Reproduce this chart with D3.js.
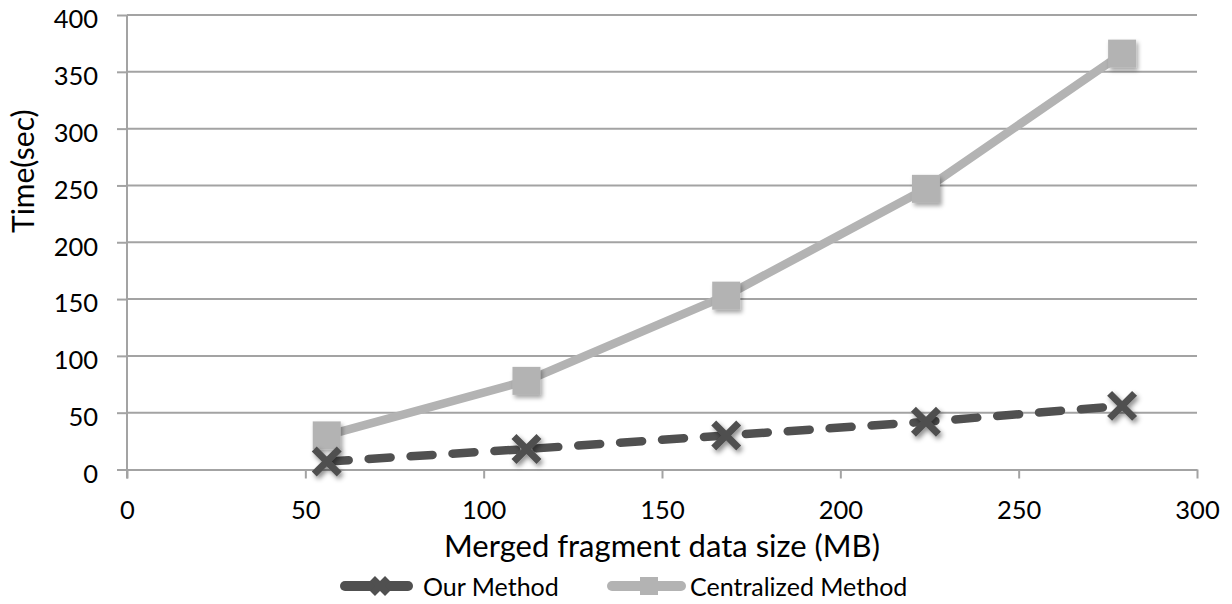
<!DOCTYPE html>
<html>
<head>
<meta charset="utf-8">
<script src="https://cdn.jsdelivr.net/npm/d3@7/dist/d3.min.js"></script>
<style>
  html, body { margin: 0; padding: 0; background: #fff; }
  svg { display: block; }
  text { font-family: Lato, "Open Sans", sans-serif; fill: #000; }
</style>
</head>
<body>
<svg id="chart" width="1232" height="604"></svg>
<script>
// Data size (MB) of the merged fragments
const sizes = [56, 112, 168, 224, 279];
// Execution time (sec) for each approach
const ourMethod = [7, 18, 30, 42, 56];
const centralized = [30, 78, 153, 247, 366];
// Axis ticks
const xTicks = [0, 50, 100, 150, 200, 250, 300];
const yTicks = [0, 50, 100, 150, 200, 250, 300, 350, 400];
const seriesNames = ["Our Method", "Centralized Method"];

const svg = d3.select("#chart");
const plotL = 127, plotR = 1197, plotT = 15, plotB = 469.5;

const x = d3.scaleLinear().domain([0, 300]).range([plotL, plotR]);
const y = d3.scaleLinear().domain([0, 400]).range([plotB, plotT]);

const gridColor = "#a3a3a3";
const darkColor = "#505050";
const lightColor = "#b3b3b3";

// Soft drop shadow used by the markers
const defs = svg.append("defs");
const f = defs.append("filter").attr("id", "shadow")
  .attr("x", "-50%").attr("y", "-50%").attr("width", "200%").attr("height", "200%");
f.append("feDropShadow").attr("dx", 2).attr("dy", 3).attr("stdDeviation", 2)
  .attr("flood-color", "#000").attr("flood-opacity", 0.35);
const fx = defs.append("filter").attr("id", "shadowX")
  .attr("x", "-50%").attr("y", "-50%").attr("width", "200%").attr("height", "200%");
fx.append("feGaussianBlur").attr("in", "SourceGraphic").attr("stdDeviation", 0.7).attr("result", "b");
fx.append("feDropShadow").attr("in", "b").attr("dx", 2).attr("dy", 3).attr("stdDeviation", 2.4)
  .attr("flood-color", "#000").attr("flood-opacity", 0.45);

// Horizontal gridlines
svg.append("g").selectAll("line")
  .data(yTicks.filter(d => d > 0))
  .join("line")
  .attr("x1", plotL).attr("x2", plotR)
  .attr("y1", d => y(d)).attr("y2", d => y(d))
  .attr("stroke", gridColor).attr("stroke-width", 2);

// Left axis: small outer ticks and labels
const yAxis = svg.append("g")
  .attr("transform", `translate(${plotL},0)`)
  .call(d3.axisLeft(y).tickValues(yTicks).tickSize(10).tickSizeOuter(0).tickPadding(19));
yAxis.select(".domain").remove();
yAxis.selectAll(".tick line").attr("x1", -10).attr("x2", 0)
  .attr("stroke", gridColor).attr("stroke-width", 2);
yAxis.selectAll(".tick text").attr("font-size", 25.5).attr("dy", "0.5em")
  .attr("font-family", "Lato, sans-serif").attr("fill", "#000");

// Bottom axis with downward ticks
const xAxis = svg.append("g")
  .attr("transform", `translate(0,${plotB})`)
  .call(d3.axisBottom(x).tickValues(xTicks).tickSize(9).tickSizeOuter(0).tickPadding(22));
xAxis.select(".domain").attr("stroke", gridColor).attr("stroke-width", 2);
xAxis.selectAll(".tick line").attr("stroke", gridColor).attr("stroke-width", 2);
xAxis.selectAll(".tick text").attr("font-size", 25.5)
  .attr("font-family", "Lato, sans-serif").attr("fill", "#000");

// Vertical axis line
svg.append("line")
  .attr("x1", plotL).attr("x2", plotL).attr("y1", plotT).attr("y2", plotB + 9)
  .attr("stroke", gridColor).attr("stroke-width", 2);

// Axis titles
svg.append("text")
  .attr("transform", `translate(34,233) rotate(-90)`)
  .attr("text-anchor", "start").attr("font-size", 30)
  .text("Time(sec)");
svg.append("text")
  .attr("x", (plotL + plotR) / 2).attr("y", 557)
  .attr("text-anchor", "middle").attr("font-size", 31)
  .text("Merged fragment data size (MB)");

const line = d3.line().x(d => x(d[0])).y(d => y(d[1]));
const cenPts = sizes.map((s, i) => [s, centralized[i]]);
const ourPts = sizes.map((s, i) => [s, ourMethod[i]]);

// Centralized series
svg.append("path").datum(cenPts)
  .attr("d", line).attr("fill", "none")
  .attr("stroke", lightColor).attr("stroke-width", 8.5).attr("stroke-linejoin", "round");

// Our Method series (dashed)
svg.append("path").datum(ourPts)
  .attr("d", line).attr("fill", "none")
  .attr("stroke", darkColor).attr("stroke-width", 8.5)
  .attr("stroke-linecap", "round").attr("stroke-dasharray", "22,20");

// Square markers
const sq = 28;
svg.append("g").attr("filter", "url(#shadow)").selectAll("rect")
  .data(cenPts).join("rect")
  .attr("x", d => x(d[0]) - sq / 2).attr("y", d => y(d[1]) - sq / 2)
  .attr("width", sq).attr("height", sq).attr("fill", lightColor);

// Cross markers
const xs = 12.5;
function crossPath(cx, cy, h) {
  return `M${cx - h},${cy - h}L${cx + h},${cy + h}M${cx - h},${cy + h}L${cx + h},${cy - h}`;
}
svg.append("g").attr("filter", "url(#shadowX)").selectAll("path")
  .data(ourPts).join("path")
  .attr("d", d => crossPath(x(d[0]), y(d[1]), xs))
  .attr("stroke", darkColor).attr("stroke-width", 7).attr("fill", "none");

// Legend
const lg = svg.append("g");
lg.append("line").attr("x1", 345).attr("x2", 408).attr("y1", 586).attr("y2", 586)
  .attr("stroke", darkColor).attr("stroke-width", 10).attr("stroke-linecap", "round");
lg.append("path").attr("d", crossPath(380, 586, 7.5))
  .attr("stroke", darkColor).attr("stroke-width", 7);
lg.append("text").attr("x", 423).attr("y", 596).attr("font-size", 25).text(seriesNames[0]);

lg.append("line").attr("x1", 612).attr("x2", 681).attr("y1", 586).attr("y2", 586)
  .attr("stroke", lightColor).attr("stroke-width", 10).attr("stroke-linecap", "round");
lg.append("rect").attr("x", 640).attr("y", 577).attr("width", 18).attr("height", 18)
  .attr("fill", lightColor);
lg.append("text").attr("x", 690).attr("y", 596).attr("font-size", 25).text(seriesNames[1]);
</script>
</body>
</html>
